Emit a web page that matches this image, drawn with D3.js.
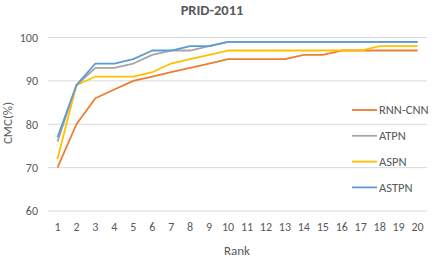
<!DOCTYPE html>
<html>
<head>
<meta charset="utf-8">
<script src="https://cdn.jsdelivr.net/npm/d3@7"></script>
<style>
  body { margin: 0; background: #fff; }
  text { font-family: Carlito, Calibri, "Open Sans", sans-serif; fill: #595959; }
</style>
</head>
<body>
<div id="chart"></div>
<script>
// data
let ranks = d3.range(1, 21)
let rnnCnn = [70, 80, 86, 88, 90, 91, 92, 93, 94, 95, 95, 95, 95, 96, 96, 97, 97, 97, 97, 97]
let atpn   = [76, 89, 93, 93, 94, 96, 97, 97, 98, 99, 99, 99, 99, 99, 99, 99, 99, 99, 99, 99]
let aspn   = [72, 89, 91, 91, 91, 92, 94, 95, 96, 97, 97, 97, 97, 97, 97, 97, 97, 98, 98, 98]
let astpn  = [77, 89, 94, 94, 95, 97, 97, 98, 98, 99, 99, 99, 99, 99, 99, 99, 99, 99, 99, 99]
let yTicks = [60, 70, 80, 90, 100]

let series = [
    { name: 'RNN-CNN', values: rnnCnn, color: '#ED7D31' },
    { name: 'ATPN', values: atpn, color: '#A5A5A5' },
    { name: 'ASPN', values: aspn, color: '#FFC000' },
    { name: 'ASTPN', values: astpn, color: '#5B9BD5' }
]

let svgWidth = 436,
    svgHeight = 262

let svg = d3.select('#chart')
    .append('svg')
    .attr('width', svgWidth)
    .attr('height', svgHeight)

let x = d3.scaleBand()
    .domain(ranks)
    .range([48, 427])

let y = d3.scaleLinear()
    .domain([60, 100])
    .range([211, 37.5])

// gridlines
svg.append('g')
    .selectAll('line')
    .data(yTicks)
    .enter().append('line')
    .attr('x1', 48)
    .attr('x2', 427)
    .attr('y1', d => y(d))
    .attr('y2', d => y(d))
    .attr('stroke', '#D9D9D9')
    .attr('stroke-width', 1)

// y axis labels
let yAxis = svg.append('g')
    .attr('transform', 'translate(48,0)')
    .call(d3.axisLeft(y).tickValues(yTicks).tickSize(0).tickPadding(10))
yAxis.select('.domain').remove()
yAxis.selectAll('text')
    .attr('font-size', '12px')
    .attr('fill', '#595959')
    .style('font-family', null)

// x axis labels
let xAxis = svg.append('g')
    .attr('transform', 'translate(0,222)')
    .call(d3.axisBottom(x).tickSize(0).tickPadding(0))
xAxis.select('.domain').remove()
xAxis.selectAll('text')
    .attr('font-size', '12px')
    .attr('fill', '#595959')
    .style('font-family', null)

// lines
let line = d3.line()
    .x((d, i) => x(ranks[i]) + x.bandwidth() / 2)
    .y(d => y(d))

svg.append('g')
    .selectAll('path')
    .data(series)
    .enter().append('path')
    .attr('d', d => line(d.values))
    .attr('fill', 'none')
    .attr('stroke', d => d.color)
    .attr('stroke-width', 1.8)
    .attr('stroke-linejoin', 'round')

// title
svg.append('text')
    .attr('x', 212)
    .attr('y', 15)
    .attr('text-anchor', 'middle')
    .attr('font-size', '14.5px')
    .attr('font-weight', 'bold')
    .text('PRID-2011')

// axis titles
svg.append('text')
    .attr('x', 237)
    .attr('y', 255)
    .attr('text-anchor', 'middle')
    .attr('font-size', '13px')
    .text('Rank')

svg.append('text')
    .attr('transform', 'translate(12,123) rotate(-90)')
    .attr('text-anchor', 'middle')
    .attr('font-size', '13px')
    .text('CMC(%)')

// legend
let legend = svg.append('g')
    .selectAll('.key')
    .data(series)
    .enter().append('g')
    .attr('class', 'key')
    .attr('transform', (d, i) => `translate(352,${110 + i * 25.8})`)

legend.append('line')
    .attr('x1', 0)
    .attr('x2', 25)
    .attr('stroke', d => d.color)
    .attr('stroke-width', 1.8)

legend.append('text')
    .attr('x', 27)
    .attr('dy', '0.35em')
    .attr('font-size', '12.5px')
    .text(d => d.name)
</script>
</body>
</html>
